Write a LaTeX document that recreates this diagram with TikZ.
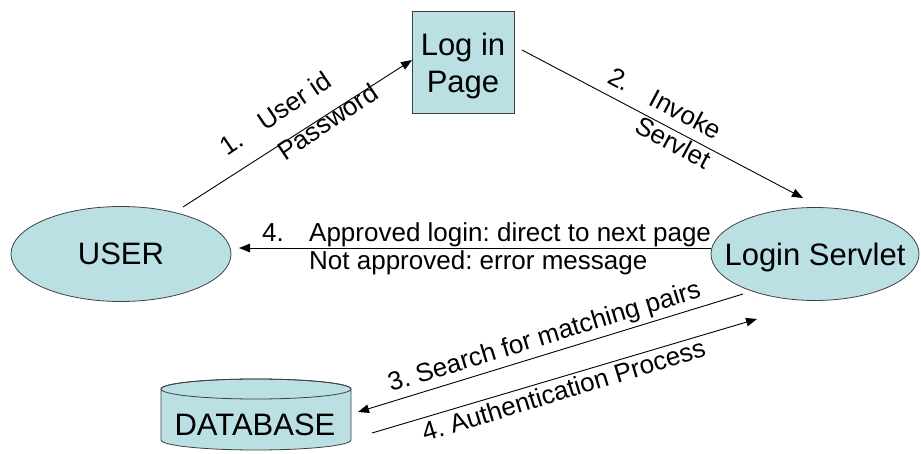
\documentclass[tikz,border=0pt]{standalone}
\usepackage{fontspec}
\setmainfont{Liberation Sans}
\usetikzlibrary{arrows.meta,shapes.geometric}
\definecolor{nodefill}{RGB}{187,224,228}
\definecolor{edgegray}{RGB}{64,64,64}
\frenchspacing
\begin{document}
\begin{tikzpicture}[x=1pt,y=-1pt,
  shapebox/.style={draw=edgegray, line width=0.8pt, fill=nodefill, inner sep=0pt},
  ellnode/.style={shapebox, ellipse, font=\fontsize{31}{37}\selectfont, text depth=0pt},
  conn/.style={line width=0.9pt, -{Triangle[length=11pt,width=8.5pt]}},
  lab/.style={font=\fontsize{26}{28}\selectfont, inner sep=0pt, anchor=base west},
]
\useasboundingbox (0,0) rectangle (921,454);

% nodes
\node[ellnode, minimum width=220pt, minimum height=95pt] (user) at (121,254) {\makebox[0pt]{USER}};
\node[ellnode, minimum width=208pt, minimum height=93pt] (servlet) at (815,254) {\makebox[0pt]{Login Servlet}};
\node[shapebox, rectangle, minimum width=102pt, minimum height=102pt, align=center,
      font=\fontsize{31}{37}\selectfont] (page) at (463,62) {\rule{0pt}{29.5pt}Log in\\Page};

% database cylinder
\path[shapebox] (161,389) -- (161,440)
  .. controls (161,445.5) and (203.5,450) .. (256,450)
  .. controls (308.5,450) and (351,445.5) .. (351,440)
  -- (351,389)
  .. controls (351,383.5) and (308.5,379) .. (256,379)
  .. controls (203.5,379) and (161,383.5) .. cycle;
\draw[draw=edgegray, line width=0.8pt] (256,389) ellipse [x radius=95, y radius=10];
\node[font=\fontsize{31}{37}\selectfont, inner sep=0pt] (db) at (255,425) {DATABASE};

% connector end points
\coordinate (p1s) at (183,207);
\coordinate (p1e) at (412,60);
\coordinate (p2s) at (522,50);
\coordinate (p2e) at (803,198);
\coordinate (p4s) at (711,248);
\coordinate (p4e) at (239,248);
\coordinate (p3s) at (743,294);
\coordinate (p3e) at (358,412);
\coordinate (p5s) at (372,433);
\coordinate (p5e) at (757,319);

% connectors
\draw[conn] (p1s) -- (p1e);
\draw[conn] (p2s) -- (p2e);
\draw[conn] (p4s) -- (p4e);
\draw[conn] (p3s) -- (p3e);
\draw[conn] (p5s) -- (p5e);

% labels
\node[lab, font=\fontsize{26}{36}\selectfont, rotate=34] (lab1) at (227,157)
  {\begin{tabular}[t]{@{}l@{}}\makebox[46pt][l]{1.}User id\\\hspace*{46pt}Password\end{tabular}};
\node[lab, font=\fontsize{26}{31}\selectfont, rotate=-28] (lab2) at (606,82)
  {\begin{tabular}[t]{@{}l@{}}\makebox[47pt][l]{2.}Invoke\\\hspace*{47pt}Servlet\end{tabular}};
\node[lab, font=\fontsize{26}{28}\selectfont] (lab4) at (262,242)
  {\begin{tabular}[t]{@{}l@{}}\makebox[47pt][l]{4.}Approved login: direct to next page\\\hspace*{47pt}Not approved: error message\end{tabular}};
\node[lab, rotate=17] (lab3) at (391,392) {3. Search for matching pairs};
\node[lab, rotate=17] (lab5) at (425,442) {4. Authentication Process};
\end{tikzpicture}
\end{document}
